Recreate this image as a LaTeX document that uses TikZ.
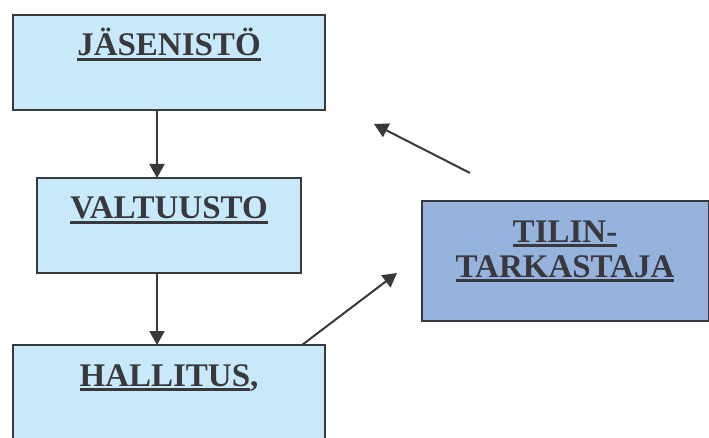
\documentclass[tikz,border=0pt]{standalone}
\usepackage{fontspec}
\setmainfont{Liberation Serif}
\usepackage{xcolor}
\usepackage{tikz}
\usetikzlibrary{shapes,positioning,arrows.meta}
\definecolor{boxblue}{HTML}{C7E9F9}
\definecolor{tilblue}{HTML}{95B3DD}
\definecolor{ink}{HTML}{38383D}
\newcommand{\ulbox}[1]{\setbox0\hbox{#1}\rlap{\rule[-5pt]{\wd0}{3pt}}\box0}
\tikzset{org/.style={rectangle,draw=ink,line width=2pt,fill=boxblue,text=ink,inner sep=0pt,outer sep=0pt,font=\fontsize{33}{35}\selectfont\bfseries,text height=41pt,text depth=54pt}}

\begin{document}
\begin{tikzpicture}[x=1pt,y=-1pt,>={Triangle[length=14pt,width=15pt]}]
        \useasboundingbox (0,0) rectangle (709,438);
        \clip (0,0) rectangle (709,438);

        \node[org,minimum width=312pt,anchor=north] (jasen)at (169,15) {\ulbox{JÄSENISTÖ}};
        \node[org,minimum width=264pt,anchor=north] (valt)at (169,178) {\ulbox{VALTUUSTO}};
        \node[org,minimum width=312pt,anchor=north] (hall)at (169,345) {\ulbox{HALLITUS},};
        \node[org,minimum width=287pt,anchor=north,fill=tilblue,align=center,text height=76pt,text depth=44pt] (tilin)at (565,201) {\ulbox{TILIN-}\\\ulbox{TARKASTAJA}};

        \coordinate (ylaalku) at (470,173);
        \coordinate (ylaloppu) at (374,124);
        \coordinate (alaloppu) at (397,273);

        \draw [ink,line width=2pt,->] ([xshift=-12pt]jasen.south) to [] ([xshift=-12pt]jasen.south |- valt.north);
        \draw [ink,line width=2pt,->] ([xshift=-12pt]valt.south) to [] ([xshift=-12pt]valt.south |- hall.north);
        \draw [ink,line width=2pt,->] (ylaalku) to [] (ylaloppu);
        \draw [ink,line width=2pt,->] ([xshift=-23pt]hall.north east) to [] (alaloppu);
    \end{tikzpicture}
\end{document}
